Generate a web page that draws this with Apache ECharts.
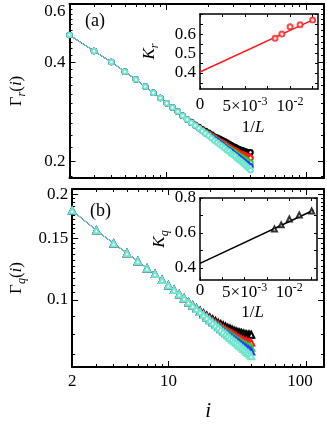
<!DOCTYPE html>
<html><head><meta charset="utf-8">
<script src="https://cdn.jsdelivr.net/npm/echarts@6/dist/echarts.min.js"></script>
<style>html,body{margin:0;padding:0;background:#fff}#c{width:327px;height:426px}</style>
</head><body><div id="c"></div>
<script>
// ---- data ----
const iValues = [2,3,4,5,6,7,8,9,10,11,12,13,14,15,16,17,18,19,20,21,22,23,24,25,26,27,28,29,30,31,32,33,34,35,36,37,38,39,40];
// Gamma_r(i): shared part (i = 2..14), then per-L tails (i = 15..40)
const rCommon = [0.483,0.432,0.400,0.374,0.354,0.337,0.323,0.311,0.300,0.291,0.283,0.275,0.268];
const rBlack = [0.263,0.258,0.254,0.250,0.247,0.244,0.241,0.238,0.236,0.234,0.232,0.230,0.228,0.226,0.224,0.222,0.221,0.219,0.218,0.217,0.216,0.215,0.214,0.213,0.213,0.213];
const rRed   = [0.262,0.257,0.253,0.249,0.245,0.242,0.239,0.236,0.233,0.230,0.228,0.226,0.223,0.221,0.219,0.217,0.216,0.214,0.212,0.211,0.210,0.209,0.208,0.207,0.206,0.205];
const rGreen = [0.262,0.257,0.252,0.248,0.244,0.241,0.237,0.234,0.231,0.228,0.225,0.223,0.220,0.218,0.216,0.214,0.212,0.210,0.208,0.206,0.205,0.203,0.202,0.200,0.199,0.198];
const rBlue  = [0.262,0.257,0.252,0.247,0.243,0.240,0.236,0.233,0.230,0.227,0.224,0.221,0.218,0.216,0.214,0.211,0.209,0.207,0.205,0.203,0.201,0.199,0.197,0.196,0.194,0.193];
const rCyan  = [0.262,0.257,0.252,0.247,0.243,0.239,0.235,0.231,0.228,0.225,0.222,0.219,0.216,0.214,0.211,0.209,0.207,0.204,0.202,0.200,0.198,0.196,0.194,0.192,0.190,0.188];
// Gamma_q(i)
const qCommon = [0.180,0.158,0.145,0.136,0.129,0.123,0.1185,0.114,0.110,0.1067,0.1037,0.1010,0.0985];
const qBlack = [0.0965,0.0947,0.0931,0.0916,0.0903,0.0891,0.0880,0.0870,0.0861,0.0853,0.0846,0.0839,0.0833,0.0828,0.0823,0.0818,0.0814,0.0810,0.0807,0.0804,0.0801,0.0799,0.0797,0.0796,0.0795,0.0795];
const qRed   = [0.0962,0.0943,0.0926,0.0910,0.0896,0.0883,0.0871,0.0859,0.0849,0.0839,0.0830,0.0821,0.0813,0.0806,0.0799,0.0793,0.0787,0.0781,0.0776,0.0771,0.0767,0.0763,0.0760,0.0757,0.0755,0.0755];
const qGreen = [0.0962,0.0942,0.0923,0.0906,0.0891,0.0877,0.0864,0.0852,0.0841,0.0830,0.0820,0.0811,0.0802,0.0794,0.0786,0.0779,0.0772,0.0765,0.0759,0.0753,0.0748,0.0743,0.0739,0.0735,0.0732,0.0730];
const qBlue  = [0.0962,0.0942,0.0923,0.0905,0.0889,0.0875,0.0862,0.0849,0.0837,0.0826,0.0815,0.0805,0.0796,0.0787,0.0779,0.0771,0.0764,0.0757,0.0750,0.0744,0.0738,0.0732,0.0727,0.0722,0.0717,0.0712];
const qCyan  = [0.0962,0.0942,0.0923,0.0905,0.0889,0.0874,0.0860,0.0846,0.0834,0.0822,0.0810,0.0800,0.0790,0.0780,0.0771,0.0762,0.0754,0.0746,0.0738,0.0731,0.0724,0.0717,0.0710,0.0704,0.0697,0.0690];
// insets
const Lvals = [120,110,100,90,80];
const Kr = [0.579,0.600,0.637,0.648,0.672];
const Kq = [0.623,0.646,0.680,0.703,0.726];
const KrFit = [[0,0.405],[0.0127,0.677]];
const KqFit = [[0,0.425],[0.0127,0.730]];
// ticks
const xTicks = [2,3,4,5,6,7,8,9,10,20,30,40,50,60,70,80,90,100];
const xMajor = [10,100];
const xLabels = [2,10,100];
const yTicksR = [0.18,0.20,0.22,0.24,0.26,0.28,0.30,0.32,0.34,0.36,0.38,0.40,0.42,0.44,0.46,0.48,0.50,0.52,0.54,0.56,0.58,0.60];
const yMajorR = [0.2,0.4,0.6];
const yLabelsR = [0.2,0.4,0.6];
const yTicksQ = [0.07,0.08,0.09,0.10,0.105,0.11,0.115,0.12,0.125,0.13,0.135,0.14,0.145,0.15,0.155,0.16,0.165,0.17,0.175,0.18,0.185,0.19,0.195,0.20];
const yMajorQ = [0.1,0.15,0.2];
const yLabelsQ = [0.1,0.15,0.2];
const invLTicks = [0,0.0025,0.005,0.0075,0.01,0.0125];
const invLLabels = [0,0.005,0.01];
const invLLabelText = ['0','5×10{sup|-3}','10{sup|-2}'];
const krTicks = [0.35,0.4,0.45,0.5,0.55,0.6,0.65,0.7];
const krLabels = [0.4,0.5,0.6];
const kqTicks = [0.4,0.5,0.6,0.7,0.8];
const kqLabels = [0.4,0.6,0.8];

const colors = {black:'#000000', red:'#ff1a1a', green:'#33cc33', blue:'#1f3cff', cyan:'#72e6cc'};

// ---- build ----
const FONT = 'Liberation Serif';
const pair = (xs, ys) => xs.map((x, k) => [x, ys[k]]);
const txt = {fontFamily: FONT, fontSize: 17, color: '#000'};
const rich = {
  n: {fontFamily: FONT, fontSize: 17, color: '#000'},
  it: {fontFamily: FONT, fontSize: 17, fontStyle: 'italic', color: '#000'},
  sub: {fontFamily: FONT, fontSize: 12, fontStyle: 'italic', color: '#000', padding: [10, 0, 0, 0]},
  sup: {fontFamily: FONT, fontSize: 12, color: '#000', padding: [0, 0, 10, 0]},
  t: {fontFamily: FONT, fontSize: 17, color: '#000', padding: [16, 0, 0, 0]},
  h: {fontFamily: FONT, fontSize: 17, color: '#000', padding: [0, 12, 0, 0]}
};
function ax(o) {
  const base = {
    axisLine: {show: true, onZero: false, lineStyle: {color: '#000', width: 2}},
    splitLine: {show: false},
    axisTick: {show: true, inside: true, length: 3, lineStyle: {color: '#000', width: 1}},
    axisLabel: {show: false},
    z: 5
  };
  const r = Object.assign(base, o);
  if (o.ticks) { r.axisTick = Object.assign({}, base.axisTick, {customValues: o.ticks}, o.tickLen ? {length: o.tickLen} : {}); delete r.ticks; delete r.tickLen; }
  return r;
}
const fmtNum = v => String(+(+v).toFixed(4));

const xAxes = [], yAxes = [];
// main grids 0,1
[0, 1].forEach(g => {
  const logX = {type: 'log', logBase: 10, min: 2, max: 135, gridIndex: g};
  xAxes.push(ax(Object.assign({}, logX, {position: 'bottom', ticks: xTicks,
    axisLabel: g === 1 ? {show: true, customValues: xLabels, margin: 6, ...txt, rich: rich,
      formatter: v => Math.abs(v - 100) < 1e-6 ? '{h|100}' : fmtNum(v)} : {show: false},
    name: g === 1 ? '{it|i}' : '', nameLocation: 'middle', nameGap: 34,
    nameTextStyle: {rich: {it: {fontFamily: FONT, fontSize: 21, fontStyle: 'italic', color: '#000'}}, padding: [0, 0, 0, 20]}})));
  xAxes.push(ax(Object.assign({}, logX, {position: 'top', ticks: xTicks})));
  xAxes.push(ax(Object.assign({}, logX, {position: 'bottom', ticks: xMajor, tickLen: 6, axisLine: {show: false}})));
  xAxes.push(ax(Object.assign({}, logX, {position: 'top', ticks: xMajor, tickLen: 6, axisLine: {show: false}})));
  const yr = g === 0 ? {min: 0.178, max: 0.6} : {min: 0.0643, max: 0.2074};
  const yt = g === 0 ? yTicksR : yTicksQ;
  const ym = g === 0 ? yMajorR : yMajorQ;
  const yl = g === 0 ? yLabelsR : yLabelsQ;
  const logY = Object.assign({type: 'log', logBase: 10, gridIndex: g}, yr);
  yAxes.push(ax(Object.assign({}, logY, {position: 'left', ticks: yt,
    axisLabel: {show: true, customValues: yl, margin: 4, ...txt, rich: rich,
      formatter: v => (g === 0 && Math.abs(v - 0.6) < 1e-6) ? '{t|0.6}' : fmtNum(v)},
    name: g === 0 ? '{n|Γ}{sub|r}{n|(}{it|i}{n|)}' : '{n|Γ}{sub|q}{n|(}{it|i}{n|)}',
    nameLocation: 'middle', nameRotate: 90, nameGap: 42, nameTextStyle: {rich: rich}})));
  yAxes.push(ax(Object.assign({}, logY, {position: 'right', ticks: yt})));
  yAxes.push(ax(Object.assign({}, logY, {position: 'left', ticks: ym, tickLen: 6, axisLine: {show: false}})));
  yAxes.push(ax(Object.assign({}, logY, {position: 'right', ticks: ym, tickLen: 6, axisLine: {show: false}})));
});
// inset grids 2,3
[2, 3].forEach(g => {
  const vx = {type: 'value', min: 0, max: 0.0131, gridIndex: g};
  xAxes.push(ax(Object.assign({}, vx, {position: 'bottom', ticks: invLTicks, axisLine: {show: true, onZero: false, lineStyle: {color: '#000', width: 1.5}},
    axisLabel: {show: true, customValues: invLLabels, margin: g === 2 ? 7 : 2, ...txt, rich: rich,
      formatter: v => invLLabelText[invLLabels.findIndex(t => Math.abs(t - v) < 1e-9)]},
    name: '{n|1/}{it|L}', nameLocation: 'middle', nameGap: g === 2 ? 30 : 24,
    nameTextStyle: {rich: rich, padding: [0, 12, 0, 0]}})));
  xAxes.push(ax(Object.assign({}, vx, {position: 'top', ticks: invLTicks, axisLine: {show: true, onZero: false, lineStyle: {color: '#000', width: 1.5}}})));
  const vy = Object.assign({type: 'value', gridIndex: g}, g === 2 ? {min: 0.318, max: 0.703} : {min: 0.33, max: 0.8});
  const t = g === 2 ? krTicks : kqTicks;
  yAxes.push(ax(Object.assign({}, vy, {position: 'left', ticks: t, axisLine: {show: true, onZero: false, lineStyle: {color: '#000', width: 1.5}},
    axisLabel: {show: true, customValues: g === 2 ? krLabels : kqLabels, margin: 4, ...txt, formatter: fmtNum},
    name: g === 2 ? '{it|K}{sub|r}' : '{it|K}{sub|q}', nameLocation: 'middle', nameRotate: 90, nameGap: g === 2 ? 39 : 24,
    nameTextStyle: {rich: rich}})));
  yAxes.push(ax(Object.assign({}, vy, {position: 'right', ticks: t, axisLine: {show: true, onZero: false, lineStyle: {color: '#000', width: 1.5}}})));
});
// index of main axes: grid0 x0,y0 ; grid1 x4,y4 ; grid2 x8,y8 ; grid3 x10,y10
const mainSeries = (xi, yi, common, tails, symbol, size) =>
  ['black', 'red', 'green', 'blue', 'cyan'].map((c, k) => ({
    type: 'line', xAxisIndex: xi, yAxisIndex: yi, clip: false,
    data: pair(iValues, common.concat(tails[k])),
    symbol: symbol, symbolSize: size, showSymbol: true,
    lineStyle: {color: colors[c], width: 1},
    itemStyle: {color: colors[c], borderColor: colors[c], borderWidth: 0.9},
    z: 2 + k, animation: false
  }));

const series = [
  ...mainSeries(0, 0, rCommon, [rBlack, rRed, rGreen, rBlue, rCyan], 'emptyCircle', 4.5),
  ...mainSeries(4, 4, qCommon, [qBlack, qRed, qGreen, qBlue, qCyan], 'emptyTriangle', 6),
  {type: 'line', xAxisIndex: 8, yAxisIndex: 8, data: KrFit, symbol: 'none', lineStyle: {color: '#ff1a1a', width: 1.5}, animation: false, z: 10},
  {type: 'scatter', xAxisIndex: 8, yAxisIndex: 8, data: pair(Lvals.map(L => 1 / L), Kr), symbol: 'emptyCircle', symbolSize: 5,
    itemStyle: {color: '#ff1a1a', borderColor: '#ff1a1a', borderWidth: 1}, animation: false, z: 11},
  {type: 'line', xAxisIndex: 10, yAxisIndex: 10, data: KqFit, symbol: 'none', lineStyle: {color: '#000', width: 1.5}, animation: false, z: 10},
  {type: 'scatter', xAxisIndex: 10, yAxisIndex: 10, data: pair(Lvals.map(L => 1 / L), Kq), symbol: 'emptyTriangle', symbolSize: 5,
    itemStyle: {color: '#000', borderColor: '#000', borderWidth: 1}, animation: false, z: 11}
];

const chart = echarts.init(document.getElementById('c'), null, {renderer: 'canvas'});
chart.setOption({
  backgroundColor: '#fff',
  animation: false,
  grid: [
    {left: 68, top: 4, width: 256, height: 174},
    {left: 68, top: 189, width: 256, height: 178},
    {left: 200, top: 14, width: 118, height: 75, show: true, backgroundColor: '#fff', borderWidth: 0, z: 4},
    {left: 200, top: 198, width: 117, height: 82, show: true, backgroundColor: '#fff', borderWidth: 0, z: 4}
  ],
  xAxis: xAxes,
  yAxis: yAxes,
  series: series,
  graphic: [
    {type: 'text', left: 85, top: 12, style: {text: '(a)', font: '18px "Liberation Serif"', fill: '#000'}},
    {type: 'text', left: 90, top: 202, style: {text: '(b)', font: '18px "Liberation Serif"', fill: '#000'}}
  ]
});
</script></body></html>
